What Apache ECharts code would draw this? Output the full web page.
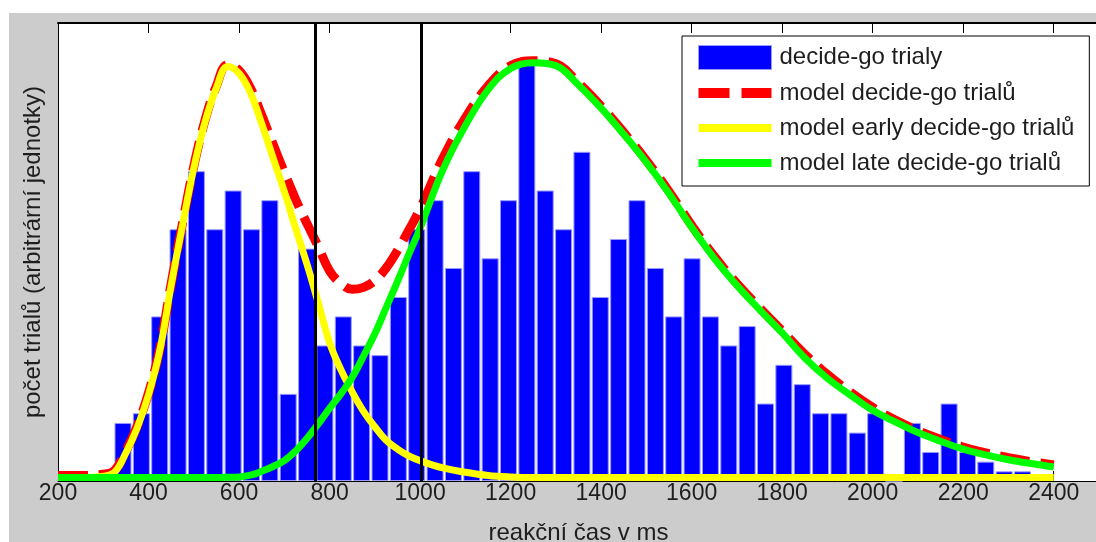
<!DOCTYPE html>
<html>
<head>
<meta charset="utf-8">
<script src="https://cdn.jsdelivr.net/npm/echarts@6/dist/echarts.min.js"></script>
<style>
  html, body { margin: 0; padding: 0; background: #fff; }
  #chart { position: absolute; left: 9px; top: 13px; width: 1087px; height: 529px; }
</style>
</head>
<body>
<div id="chart"></div>
<script>
// histogram: 50 bins, counts
const binStart = 323.3
const binWidth = 40.56
const counts = [
  6, 7, 17, 26, 32, 26, 30, 26, 29, 9,
  24, 14, 17, 14, 13, 19, 26, 29, 22, 32,
  23, 29, 43, 30, 26, 34, 19, 25, 29, 22,
  17, 23, 17, 14, 16, 8, 12, 10, 7, 7,
  5, 7, 0, 6, 3, 8, 3, 2, 1, 1
]

// model curves sampled along the x axis (ms)
const modelX = [
  200, 250, 300, 325, 350, 375, 400, 425, 450, 475, 500, 525, 550, 575, 600, 625, 650, 675, 700, 725,
  750, 775, 800, 825, 850, 875, 900, 925, 950, 975, 1000, 1050, 1100, 1150, 1200, 1250, 1300, 1350, 1400, 1450,
  1500, 1550, 1600, 1650, 1700, 1750, 1800, 1850, 1900, 1950, 2000, 2050, 2100, 2150, 2200, 2250, 2300, 2350, 2400
]
const modelTotal = [
  0.57, 0.57, 0.7, 1.1, 3.1, 5.7, 9.1, 13.7, 20.4, 26.6, 32.5, 37.3, 40.8, 43.0, 42.4, 40.6, 37.8, 34.8, 31.9, 29.1,
  26.6, 24.2, 21.7, 20.4, 19.8, 20.0, 20.7, 22.0, 23.8, 25.9, 28.1, 33.3, 37.5, 40.8, 42.9, 43.4, 43.1, 41.1, 38.7, 36.0,
  33.1, 29.9, 26.4, 23.2, 20.4, 17.9, 15.5, 13.1, 11.0, 9.2, 7.6, 6.3, 5.2, 4.3, 3.5, 2.9, 2.4, 2.0, 1.65
]
const modelEarly = [
  0.36, 0.36, 0.5, 0.9, 2.9, 5.5, 8.9, 13.5, 20.2, 26.4, 32.3, 37.1, 40.6, 42.8, 42.1, 40.1, 36.9, 33.4, 29.9, 26.1,
  22.4, 18.4, 14.3, 11.5, 9.2, 7.2, 5.6, 4.2, 3.3, 2.6, 2.1, 1.35, 0.9, 0.57, 0.42, 0.36, 0.36, 0.36, 0.36, 0.36,
  0.36, 0.36, 0.36, 0.36, 0.36, 0.36, 0.36, 0.36, 0.36, 0.36, 0.36, 0.36, 0.36, 0.36, 0.36, 0.36, 0.36, 0.36, 0.36
]
const modelLate = [
  0.36, 0.36, 0.36, 0.36, 0.36, 0.36, 0.36, 0.36, 0.36, 0.36, 0.36, 0.36, 0.37, 0.38, 0.42, 0.6, 1.0, 1.5, 2.1, 3.1,
  4.4, 5.9, 7.5, 9.0, 10.7, 12.9, 15.2, 17.9, 20.6, 23.4, 26.1, 32.1, 36.7, 40.4, 42.6, 43.2, 42.9, 40.9, 38.5, 35.8,
  32.9, 29.7, 26.2, 23.0, 20.2, 17.7, 15.3, 12.7, 10.6, 8.9, 7.3, 6.1, 5.0, 4.1, 3.3, 2.7, 2.2, 1.8, 1.45
]
const cutoffs = [768, 1002]

const font = 'Liberation Sans, Arial, sans-serif'
const textColor = '#1e1e1e'

const chart = echarts.init(document.getElementById('chart'))

const binCenters = counts.map((_, i) => binStart + binWidth * (i + 0.5))
const curve = (vals) => modelX.map((x, i) => [x, vals[i]])

const xBase = {
  type: 'value',
  min: 200,
  max: 2500,
  interval: 200,
  axisLine: { lineStyle: { color: '#000', width: 1 } },
  axisTick: { inside: true, length: 10, lineStyle: { color: '#000' } },
  splitLine: { show: false }
}

const option = {
  backgroundColor: '#cccccc',
  animation: false,
  grid: {
    left: 49, top: 10, right: -3, bottom: 61,
    outerBoundsMode: 'none',
    containLabel: false,
    show: true, backgroundColor: '#fff', borderWidth: 0
  },
  legend: {
    orient: 'vertical',
    left: 673,
    top: 23,
    padding: [9, 15, 11, 16],
    backgroundColor: '#fff',
    borderColor: '#000',
    borderWidth: 1,
    itemWidth: 73,
    itemHeight: 24,
    itemGap: 11,
    symbolKeepAspect: true,
    textStyle: { fontFamily: font, fontSize: 24, color: textColor, padding: [0, 0, 0, 3] },
    data: [
      { name: 'decide-go trialy', icon: 'rect', itemStyle: { borderColor: '#9a9aff', borderWidth: 1 } },
      { name: 'model decide-go trialů', icon: 'path://M0,0h31v10h-31z M43,0h30v10h-30z', itemStyle: { borderWidth: 0 } },
      { name: 'model early decide-go trialů', icon: 'path://M0,0h73v8h-73z', itemStyle: { borderWidth: 0 } },
      { name: 'model late decide-go trialů', icon: 'path://M0,0h73v8h-73z', itemStyle: { borderWidth: 0 } }
    ]
  },
  xAxis: [
    Object.assign({}, xBase, {
      position: 'bottom',
      name: 'reakční čas v ms',
      nameLocation: 'middle',
      nameGap: 40,
      nameTextStyle: { fontFamily: font, fontSize: 24, color: textColor },
      axisLabel: {
        fontFamily: font, fontSize: 23, color: textColor, margin: 1,
        showMaxLabel: false,
        formatter: (v) => String(v)
      }
    }),
    Object.assign({}, xBase, {
      position: 'top',
      axisLine: { lineStyle: { color: '#000', width: 2 } },
      axisLabel: { show: false }
    })
  ],
  yAxis: {
    type: 'value',
    min: 0,
    max: 47.3,
    name: 'počet trialů (arbitrární jednotky)',
    nameLocation: 'middle',
    nameGap: 13,
    nameTextStyle: { fontFamily: font, fontSize: 24, color: textColor },
    axisLine: { show: true, lineStyle: { color: '#000', width: 1 } },
    axisTick: { show: false },
    axisLabel: { show: false },
    splitLine: { show: false }
  },
  series: [
    {
      name: 'decide-go trialy',
      type: 'bar',
      barWidth: 17,
      itemStyle: { color: '#0000ff', borderColor: '#9a9aff', borderWidth: 1 },
      data: binCenters.map((x, i) => [x, counts[i]])
    },
    {
      name: 'model decide-go trialů',
      type: 'line',
      symbol: 'none',
      smooth: 0.4,
      color: '#ff0000',
      lineStyle: { color: '#ff0000', width: 9, type: [30, 11], cap: 'butt' },
      data: curve(modelTotal)
    },
    {
      name: 'model early decide-go trialů',
      type: 'line',
      symbol: 'none',
      smooth: 0.4,
      color: '#ffff00',
      lineStyle: { color: '#ffff00', width: 7 },
      data: curve(modelEarly)
    },
    {
      name: 'model late decide-go trialů',
      type: 'line',
      symbol: 'none',
      smooth: 0.4,
      color: '#00ff00',
      lineStyle: { color: '#00ff00', width: 7 },
      data: curve(modelLate),
      markLine: {
        silent: true,
        symbol: 'none',
        label: { show: false },
        lineStyle: { color: '#000', width: 3, type: 'solid' },
        data: cutoffs.map((x) => ({ xAxis: x }))
      }
    }
  ]
}

chart.setOption(option)
</script>
</body>
</html>
